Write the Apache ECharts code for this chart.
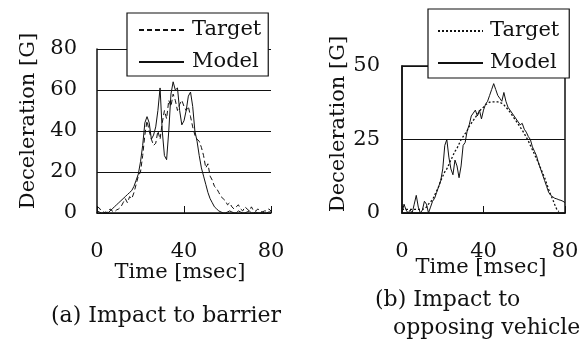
<!DOCTYPE html>
<html>
<head>
<meta charset="utf-8">
<script src="https://cdn.jsdelivr.net/npm/echarts@6/dist/echarts.min.js"></script>
<style>
html,body{margin:0;padding:0;background:#fff;}
#c{width:586px;height:347px;}
</style>
</head>
<body>
<div id="c"></div>
<script>
// ---- data (time in msec, deceleration in G) ----
var timeA = [];
for (var i = 0; i <= 80; i++) timeA.push(i);
var timeB = timeA.slice();

// (a) Impact to barrier
var targetA = [3,2.5,1,0.5,0,0.5,2,1,0.5,1.5,2,3,5,7,5,8,7,10,14,18,
  20,28,38,45,40,36,33,34,40,36,44,50,46,55,52,58,55,50,53,55,
  52,50,52,47,42,38,36,35,32,28,22,24,18,16,13,12,10,8,7,6,
  4,5,3,2,3,4,2,1,3,2,1,3,1,1,2,1,0.5,1,1,2,1];
var modelA = [1,0.5,0,0,0.5,0,1,2,3,4,5,6,7,8,9,10,11,13,16,19,
  25,33,44,47,44,36,38,42,50,61,40,28,26,40,58,64,60,61,50,43,
  45,50,57,59,52,40,35,28,22,18,14,10,7,5,3,2,1,0.5,0,0,
  0.5,1,0.5,0,0,1,0.5,0,0,0.5,1,0,0,0.5,0,0,0.5,0,0,0.5,0.5];

// (b) Impact to opposing vehicle
var targetB = [1.2,1.2,1.2,1.2,1.2,1.2,1.2,1.2,1.2,1.2,1.2,1.5,2,3,3.8,4.5,6,7.5,9,11,
  12.5,14,15,16.5,18,19.5,21,22,23.5,25,26,27,28,29.5,30.5,31.5,32.5,33.5,34.5,35.5,
  36,36.8,37.3,37.7,37.8,37.8,37.8,37.8,37.6,37.3,36.8,36,35.2,34.3,33.3,32.3,31.3,30.2,29.2,28.2,
  27,25.8,24.5,23,21.5,20,18.5,17,15.3,13.6,12,10,8,6.2,4.6,2.8,1.2,0.5,null,null,null];
var modelB = [0,3,1,0,1,0,3,6,2,0,1,4,3,0,2,4,5,7,9,11,
  15,23,25,19,15,13,18,16,12,16,23,24,28,30,33,34,35,33,35,32,
  35,37,38,40,42,44,42,40,39,38,41,38,36,35,34,33,32,31,30,30.5,
  28.5,27.5,26,25,22.5,21,19.5,17,15,13,11,9,7,6,5.5,5,4.8,4.5,4.3,4,3.5];

var xTicks = [0, 40, 80];
var yTicksA = [0, 20, 40, 60, 80];
var yTicksB = [0, 25, 50];

function pairs(t, v) {
  var out = [];
  for (var i = 0; i < t.length; i++) out.push([t[i], v[i]]);
  return out;
}

var FONT = 'DejaVu Serif';
var INK = '#111';

function xAxisCfg(gi) {
  return {
    gridIndex: gi, type: 'value', min: xTicks[0], max: xTicks[xTicks.length - 1],
    interval: xTicks[1] - xTicks[0],
    axisLine: {show: true, onZero: false, lineStyle: {color: INK, width: 1.5}},
    axisTick: {show: true, inside: true, length: 7, lineStyle: {color: INK, width: 1}},
    axisLabel: {color: INK, fontFamily: FONT, fontSize: 21, margin: 28},
    splitLine: {show: false}
  };
}
function yAxisCfg(gi, ticks) {
  return {
    gridIndex: gi, type: 'value', min: ticks[0], max: ticks[ticks.length - 1],
    interval: ticks[1] - ticks[0],
    axisLine: {show: true, lineStyle: {color: INK, width: 1.5}},
    axisTick: {show: false},
    axisLabel: {color: INK, fontFamily: FONT, fontSize: 21, margin: gi === 0 ? 20 : 22},
    splitLine: {show: true, lineStyle: {color: INK, width: 1}}
  };
}

var legendBase = {
  orient: 'vertical', itemGap: 10, itemWidth: 45, itemHeight: 14,
  backgroundColor: '#fff', borderColor: INK, borderWidth: 1.2, borderRadius: 0,
  selectedMode: false,
  itemStyle: {opacity: 0, borderWidth: 0},
  formatter: function (n) { return n.trim(); }
};

var chart = echarts.init(document.getElementById('c'), null, {renderer: 'canvas'});
chart.setOption({
  animation: false,
  backgroundColor: '#fff',
  grid: [
    {left: 97, top: 49, width: 174, height: 164, containLabel: false, outerBoundsMode: 'none'},
    {left: 402, top: 66, width: 163, height: 147, containLabel: false, outerBoundsMode: 'none',
     show: true, borderColor: INK, borderWidth: 1.5, backgroundColor: 'transparent'}
  ],
  xAxis: [xAxisCfg(0), xAxisCfg(1)],
  yAxis: [yAxisCfg(0, yTicksA), yAxisCfg(1, yTicksB)],
  legend: [
    Object.assign({}, legendBase, {
      data: ['Target', 'Model'], left: 127, top: 13, padding: [6, 7, 3, 11],
      textStyle: {color: INK, fontFamily: FONT, fontSize: 21, lineHeight: 22, padding: [0, 0, 0, 3]}
    }),
    Object.assign({}, legendBase, {
      data: ['Target ', 'Model '], left: 428, top: 9, padding: [11, 10, 4, 9],
      textStyle: {color: INK, fontFamily: FONT, fontSize: 21, lineHeight: 22, padding: [0, 0, 0, 2]}
    })
  ],
  series: [
    {name: 'Target', type: 'line', xAxisIndex: 0, yAxisIndex: 0, data: pairs(timeA, targetA),
     showSymbol: false, symbol: 'none', lineStyle: {color: INK, width: 1, type: [5, 3]}, itemStyle: {color: INK, opacity: 0}},
    {name: 'Model', type: 'line', xAxisIndex: 0, yAxisIndex: 0, data: pairs(timeA, modelA),
     showSymbol: false, symbol: 'none', lineStyle: {color: INK, width: 1, type: 'solid'}, itemStyle: {color: INK, opacity: 0}},
    {name: 'Target ', type: 'line', xAxisIndex: 1, yAxisIndex: 1, data: pairs(timeB, targetB),
     showSymbol: false, symbol: 'none', lineStyle: {color: INK, width: 1.3, type: [2, 2]}, itemStyle: {color: INK, opacity: 0}},
    {name: 'Model ', type: 'line', xAxisIndex: 1, yAxisIndex: 1, data: pairs(timeB, modelB),
     showSymbol: false, symbol: 'none', lineStyle: {color: INK, width: 1, type: 'solid'}, itemStyle: {color: INK, opacity: 0}}
  ],
  graphic: [
    {type: 'text', x: 29, y: 121, rotation: Math.PI / 2,
     style: {text: 'Deceleration [G]', font: '21px "DejaVu Serif"', fill: INK, align: 'center', verticalAlign: 'middle'}},
    {type: 'text', x: 339, y: 124, rotation: Math.PI / 2,
     style: {text: 'Deceleration [G]', font: '21px "DejaVu Serif"', fill: INK, align: 'center', verticalAlign: 'middle'}},
    {type: 'text', x: 180, y: 273,
     style: {text: 'Time [msec]', font: '21px "DejaVu Serif"', fill: INK, align: 'center', verticalAlign: 'middle'}},
    {type: 'text', x: 481, y: 268,
     style: {text: 'Time [msec]', font: '21px "DejaVu Serif"', fill: INK, align: 'center', verticalAlign: 'middle'}},
    {type: 'text', x: 166, y: 316,
     style: {text: '(a) Impact to barrier', font: '22px "DejaVu Serif"', fill: INK, align: 'center', verticalAlign: 'middle'}},
    {type: 'text', x: 375, y: 300,
     style: {text: '(b) Impact to', font: '22px "DejaVu Serif"', fill: INK, align: 'left', verticalAlign: 'middle'}},
    {type: 'text', x: 393, y: 328,
     style: {text: 'opposing vehicle', font: '22px "DejaVu Serif"', fill: INK, align: 'left', verticalAlign: 'middle'}}
  ]
});
</script>
</body>
</html>
